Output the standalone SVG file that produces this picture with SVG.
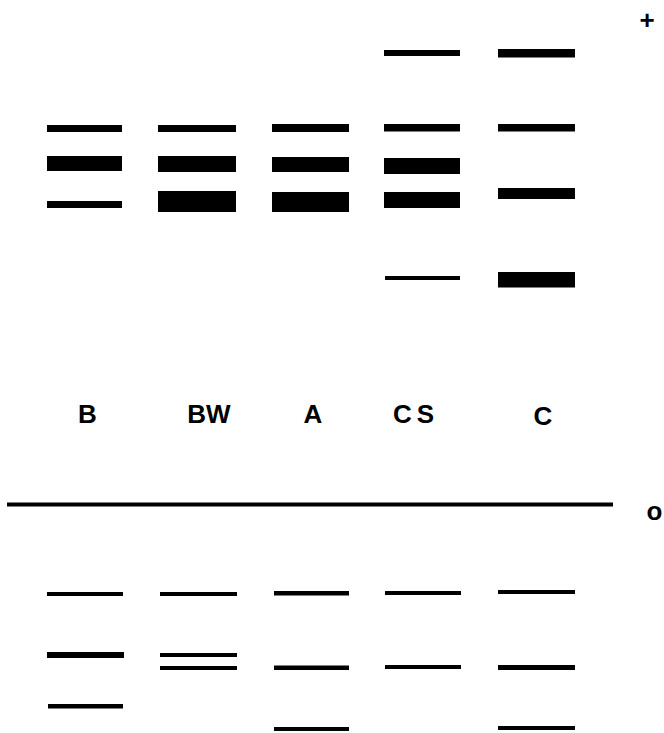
<svg xmlns="http://www.w3.org/2000/svg" width="664" height="733" viewBox="0 0 664 733">
<style>
.b{fill:#000}
.lbl{font-family:"Liberation Sans",Arial,sans-serif;font-weight:bold;font-size:26px;fill:#000;text-anchor:middle}
</style>
<rect width="664" height="733" fill="#fff"/>
<g id="lane-B">
<rect class="b" x="47" y="125" width="75" height="7"/>
<rect class="b" x="47" y="156" width="75" height="15"/>
<rect class="b" x="47" y="201" width="75" height="7"/>
<rect class="b" x="47" y="592" width="76" height="4"/>
<rect class="b" x="47" y="652" width="77" height="6"/>
<rect class="b" x="48" y="704" width="75" height="4.5"/>
<text class="lbl" x="87.5" y="423">B</text>
</g>
<g id="lane-BW">
<rect class="b" x="158" y="125" width="78" height="7"/>
<rect class="b" x="158" y="156" width="78" height="16"/>
<rect class="b" x="158" y="191" width="78" height="21"/>
<rect class="b" x="160" y="592" width="77" height="4"/>
<rect class="b" x="160" y="653" width="77" height="4"/>
<rect class="b" x="160" y="666" width="77" height="4"/>
<text class="lbl" x="209" y="423">BW</text>
</g>
<g id="lane-A">
<rect class="b" x="272" y="124" width="77" height="8"/>
<rect class="b" x="272" y="157" width="77" height="15"/>
<rect class="b" x="272" y="192" width="77" height="20"/>
<rect class="b" x="274" y="591" width="75" height="4.5"/>
<rect class="b" x="274" y="665.5" width="75" height="4.5"/>
<rect class="b" x="274" y="727" width="75" height="4"/>
<text class="lbl" x="313" y="423">A</text>
</g>
<g id="lane-CS">
<rect class="b" x="384" y="50" width="76" height="6"/>
<rect class="b" x="384" y="124" width="76" height="7.5"/>
<rect class="b" x="384" y="158" width="76" height="16"/>
<rect class="b" x="384" y="192" width="76" height="16"/>
<rect class="b" x="385" y="276" width="75" height="4"/>
<rect class="b" x="385" y="591" width="76" height="4"/>
<rect class="b" x="385" y="665" width="76" height="4"/>
<text class="lbl" x="416" y="423" letter-spacing="5">CS</text>
</g>
<g id="lane-C">
<rect class="b" x="498" y="49" width="77" height="8.5"/>
<rect class="b" x="498" y="124" width="77" height="7.5"/>
<rect class="b" x="498" y="188" width="77" height="11"/>
<rect class="b" x="498" y="272" width="77" height="15.5"/>
<rect class="b" x="498" y="590" width="77" height="4"/>
<rect class="b" x="498" y="665" width="77" height="5"/>
<rect class="b" x="498" y="726" width="77" height="4"/>
<text class="lbl" x="543" y="425">C</text>
</g>
<g id="connectors">
<line x1="7" y1="504.5" x2="613" y2="504.5" stroke="#000" stroke-width="4"/>
</g>
<g id="poles">
<text class="lbl" x="647" y="29" font-size="34">+</text>
<text class="lbl" x="654.5" y="520" font-size="25">o</text>
</g>
</svg>
